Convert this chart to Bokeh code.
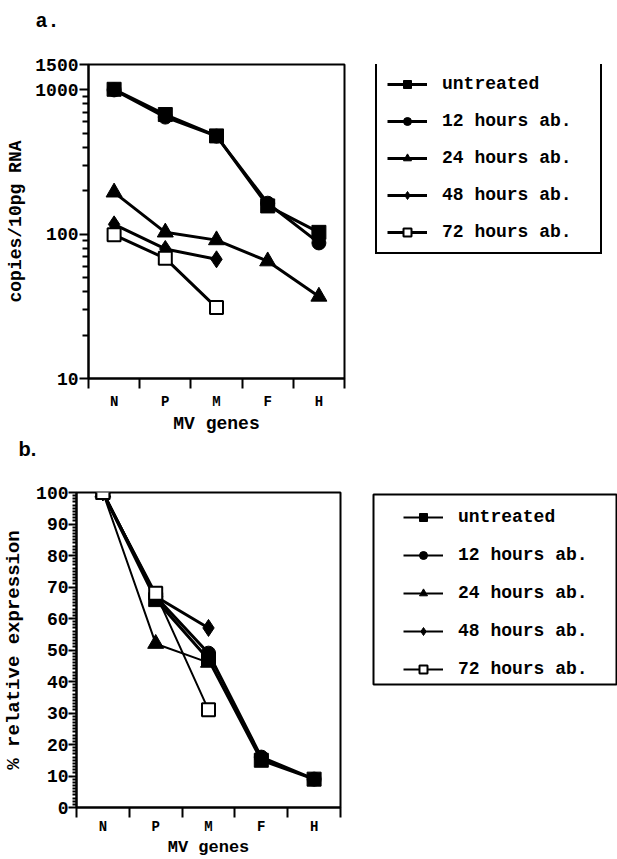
from bokeh.plotting import figure
from bokeh.models import (FixedTicker, CustomJSTickFormatter, Legend, LegendItem,
                          BoxAnnotation, ColumnDataSource, Label)
from bokeh.layouts import column, row
from bokeh.embed import file_html
from bokeh.resources import INLINE

# ---------------- data ----------------
genes = ["N", "P", "M", "F", "H"]
series = ["untreated", "12 hours ab.", "24 hours ab.", "48 hours ab.", "72 hours ab."]

# panel a: copies / 10pg RNA
a_untreated = [1010, 675, 480, 157, 103]
a_12h = [1000, 648, 478, 164, 87]
a_24h = [195, 103, 91, 65, 37]
a_48h = [117, 79, 67]
a_72h = [99, 68, 31]

# panel b: % relative expression
b_untreated = [100, 66, 47, 15, 9]
b_12h = [100, 67, 49, 16, 9]
b_24h = [100, 52, 46]
b_48h = [100, 67, 57]
b_72h = [100, 68, 31]

a_yticks = [10, 100, 1000, 1500]
b_yticks = list(range(0, 101, 10))

FONT = "'Liberation Mono'"

markers = ["square", "circle", "triangle", "diamond", "square"]
msizes = [14, 14, 16, 17, 13]
fills = ["black", "black", "black", "black", "white"]


def xs(vals):
    return [i + 0.5 for i in range(len(vals))]


def blank(width, height):
    f = figure(width=width, height=height, x_range=(0, 1), y_range=(0, 1),
               min_border=0, x_axis_location=None, y_axis_location=None,
               output_backend="svg", toolbar_location=None)
    f.outline_line_color = None
    f.grid.visible = False
    return f


def style_axes(p, xtick_size, ytick_size, label_size):
    for ax in (p.xaxis[0], p.yaxis[0]):
        ax.axis_line_width = 2
        ax.axis_line_color = "black"
        ax.major_label_text_font = FONT
        ax.major_label_text_font_style = "bold"
        ax.major_label_text_color = "black"
        ax.axis_label_text_font = FONT
        ax.axis_label_text_font_size = label_size
        ax.axis_label_text_font_style = "bold"
        ax.axis_label_text_color = "black"
        ax.major_tick_line_width = 2
        ax.minor_tick_line_width = 2
        ax.major_tick_line_color = "black"
        ax.minor_tick_line_color = "black"
    p.xaxis[0].major_label_text_font_size = xtick_size
    p.yaxis[0].major_label_text_font_size = ytick_size
    xa = p.xaxis[0]
    xa.ticker = FixedTicker(ticks=[i + 0.5 for i in range(5)], minor_ticks=list(range(6)))
    xa.major_label_overrides = {i + 0.5: g for i, g in enumerate(genes)}
    xa.major_tick_line_color = None
    xa.major_tick_in = 0
    xa.minor_tick_in = 0
    p.grid.visible = False
    p.outline_line_color = "black"
    p.outline_line_width = 2


def add_series(p, data, widths):
    for k, vals in enumerate(data):
        src = ColumnDataSource(dict(x=xs(vals), y=vals))
        p.line("x", "y", source=src, line_color="black", line_width=widths[k])
    for k, vals in enumerate(data):
        src = ColumnDataSource(dict(x=xs(vals), y=vals))
        p.scatter("x", "y", source=src, marker=markers[k], size=msizes[k],
                  fill_color=fills[k], line_color="black",
                  line_width=2 if k == 4 else 1)


def legend_fig(width, height, top, bottom, widths, loc, padding,
               spacing, label_width, border):
    lf = figure(width=width, height=height, x_range=(0, 1), y_range=(0, 1),
                min_border_left=0, min_border_right=0,
                min_border_top=top, min_border_bottom=bottom,
                x_axis_location=None, y_axis_location=None,
                output_backend="svg", toolbar_location=None)
    lf.outline_line_color = None
    lf.grid.visible = False
    items = []
    for k in range(5):
        # proxy glyphs for the legend only; the point lies outside the ranges
        src = ColumnDataSource(dict(x=[9], y=[9]))
        ln = lf.line("x", "y", source=src, line_color="black", line_width=widths[k])
        mk = lf.scatter("x", "y", source=src, marker=markers[k], size=msizes[k] - 1,
                        fill_color=fills[k], line_color="black",
                        line_width=2 if k == 4 else 1)
        items.append(LegendItem(label=series[k], renderers=[ln, mk]))
    lg = Legend(items=items, location=loc, orientation="vertical",
                label_text_font=FONT, label_text_font_size="18px",
                label_text_font_style="bold", label_text_color="black",
                glyph_width=40, glyph_height=20, label_height=20,
                label_standoff=15, spacing=spacing, padding=padding,
                label_width=label_width, margin=0,
                border_line_color="black" if border else None,
                border_line_alpha=1, border_line_width=2,
                background_fill_alpha=1 if border else 0,
                background_fill_color="white")
    lf.add_layout(lg, "center")
    return lf


# ---------------- strip with "a." ----------------
sa = blank(617, 40)
sa.add_layout(Label(x=35, y=19, x_units="screen", y_units="screen", text="a.",
                    text_font=FONT, text_font_size="20px", text_font_style="bold",
                    text_color="black", text_baseline="alphabetic"))

# ---------------- panel a ----------------
pa = figure(width=364, height=396,
            min_border_left=88, min_border_right=20, min_border_top=24,
            min_border_bottom=54, x_range=(0, 5), y_range=(10, 1500),
            y_axis_type="log", output_backend="svg", toolbar_location=None)
style_axes(pa, "14px", "18px", "18px")
ya = pa.yaxis[0]
ya.ticker = FixedTicker(ticks=a_yticks,
                        minor_ticks=[20, 30, 40, 50, 60, 70, 80, 90,
                                     200, 300, 400, 500, 600, 700, 800, 900])
ya.formatter = CustomJSTickFormatter(code="return Math.round(tick).toString()")
ya.major_tick_out = 9
ya.major_tick_in = 0
ya.minor_tick_out = 6
ya.minor_tick_in = 0
ya.major_label_standoff = 1
ya.axis_label = "copies/10pg RNA"
ya.axis_label_standoff = 6
xa = pa.xaxis[0]
xa.major_tick_out = 10
xa.minor_tick_out = 10
xa.major_label_standoff = 5
xa.axis_label = "MV genes"
xa.axis_label_standoff = 1

add_series(pa, [a_untreated, a_12h, a_24h, a_48h, a_72h], [3, 3, 3, 3, 3])
la = legend_fig(253, 396, 24, 54, [3, 3, 3, 3, 3], (11, 124), 10, 17, 148, True)

# ---------------- strip with "b." ----------------
sb = blank(617, 36)
sb.add_layout(Label(x=18, y=24, x_units="screen", y_units="screen", text="b.",
                    text_font="'Liberation Sans'", text_font_size="20px",
                    text_font_style="bold", text_color="black",
                    text_baseline="alphabetic"))

# ---------------- panel b ----------------
pb = figure(width=360, height=387,
            min_border_left=72, min_border_right=20, min_border_top=20,
            min_border_bottom=51, x_range=(0, 5), y_range=(0, 100),
            output_backend="svg", toolbar_location=None)
style_axes(pb, "14px", "18px", "17px")
yb = pb.yaxis[0]
yb.axis_label_text_font_size = "19px"
yb.ticker = FixedTicker(ticks=b_yticks, minor_ticks=[i for i in range(101) if i % 10])
yb.major_tick_out = 8
yb.major_tick_in = 0
yb.minor_tick_out = 4
yb.minor_tick_in = 0
yb.major_label_standoff = 0
yb.axis_label = "% relative expression"
yb.axis_label_standoff = 8
xb = pb.xaxis[0]
xb.major_tick_out = 10
xb.minor_tick_out = 10
xb.major_label_standoff = 1
xb.axis_label = "MV genes"
xb.axis_label_standoff = 0

add_series(pb, [b_untreated, b_12h, b_24h, b_48h, b_72h], [3, 3, 2, 3, 2])
lb = legend_fig(257, 387, 20, 51, [2, 2, 2, 2, 2], (43, 128), 10, 18, 140, False)
lb.add_layout(BoxAnnotation(left=13, right=256, bottom=123, top=313,
                            left_units="screen", right_units="screen",
                            bottom_units="screen", top_units="screen",
                            fill_alpha=0, line_color="black", line_alpha=1,
                            line_width=2))

layout = column(sa, row(pa, la), sb, row(pb, lb))
open("out.html", "w").write(file_html(layout, INLINE))
